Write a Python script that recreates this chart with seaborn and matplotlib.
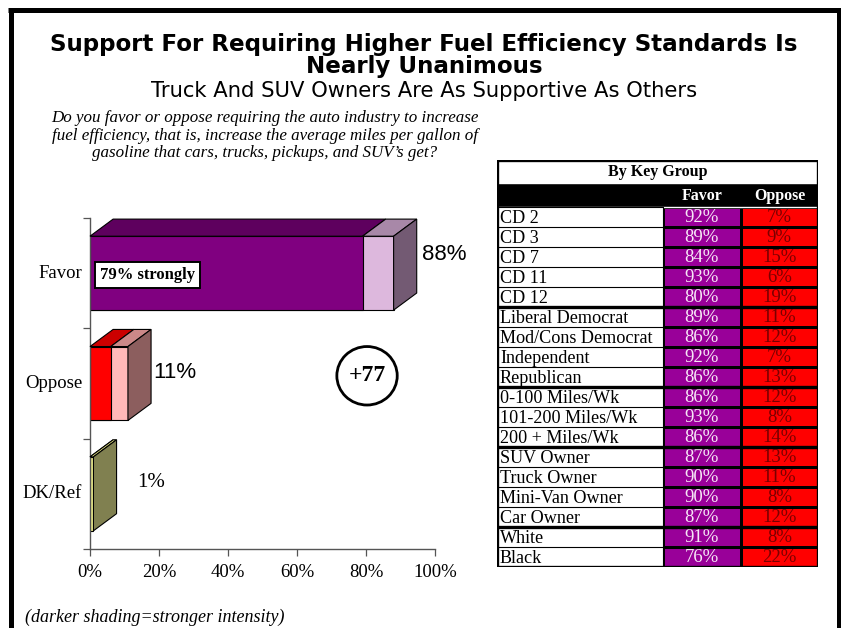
import numpy as np
import pandas as pd
import matplotlib
matplotlib.use("Agg")
import matplotlib.pyplot as plt
from matplotlib.colors import ListedColormap
from matplotlib.patches import Polygon, Rectangle, Ellipse
from matplotlib.lines import Line2D
import seaborn as sns

# --- data ---
CATEGORIES = ["Favor", "Oppose", "DK/Ref"]
TOTAL_PCT = [88, 11, 1]
STRONG_PCT = [79, 6, 0]
VALUE_LABELS = ["88%", "11%", "1%"]

GROUPS = ["CD 2", "CD 3", "CD 7", "CD 11", "CD 12",
          "Liberal Democrat", "Mod/Cons Democrat", "Independent", "Republican",
          "0-100 Miles/Wk", "101-200 Miles/Wk", "200 + Miles/Wk",
          "SUV Owner", "Truck Owner", "Mini-Van Owner", "Car Owner",
          "White", "Black"]
GROUP_FAVOR = [92, 89, 84, 93, 80, 89, 86, 92, 86, 86, 93, 86, 87, 90, 90, 87, 91, 76]
GROUP_OPPOSE = [7, 9, 15, 6, 19, 11, 12, 7, 13, 12, 8, 14, 13, 11, 8, 12, 8, 22]
SECTION_ENDS = [5, 9, 12, 16]

QUESTION = ["Do you favor or oppose requiring the auto industry to increase",
            "fuel efficiency, that is, increase the average miles per gallon of",
            "gasoline that cars, trucks, pickups, and SUV\u2019s get?"]

STRONG_COLORS = ["#800080", "#FF0000", "#FFFF99"]
SOFT_COLORS = ["#DDB8DD", "#FFB8B8", "#FFFF99"]
TOP_STRONG = ["#5E005E", "#CC0000", "#E0E080"]
TOP_SOFT = ["#A888A8", "#CC8888", "#E0E080"]
SIDE_COLORS = ["#735A73", "#8C5E5E", "#808050"]

W, H = 841, 628
SERIF = "Liberation Serif"
SANS = "Liberation Sans"
HEAD = "DejaVu Sans"

sns.set_theme(style="white")
plt.rcParams["font.family"] = [SERIF, "DejaVu Sans"]
plt.rcParams["text.color"] = "black"
plt.rcParams["xtick.color"] = "black"
plt.rcParams["ytick.color"] = "black"

fig = plt.figure(figsize=(W / 100, H / 100), dpi=100)
fig.patch.set_facecolor("white")
renderer = fig.canvas.get_renderer()


def px_axes(x0, y0, x1, y1):
    # axes placed by pixel box (top-left origin)
    return fig.add_axes([x0 / W, 1 - y1 / H, (x1 - x0) / W, (y1 - y0) / H])


def fx(x):
    return x / W


def fy(y):
    return 1 - y / H


def fit_width(txt, target_px):
    w = txt.get_window_extent(renderer).width
    txt.set_fontsize(txt.get_fontsize() * target_px / w)
    return txt.get_fontsize()


# outer frame
for xs, ys in [((10.5, 10.5), (10, H)), ((8, 841), (10, 10)), ((838.5, 838.5), (10, H))]:
    fig.add_artist(Line2D([fx(v) for v in xs], [fy(v) for v in ys], color="black",
                          lw=3.6, solid_capstyle="butt"))

# titles
t1 = fig.text(fx(424), fy(45), "Support For Requiring Higher Fuel Efficiency Standards Is",
              ha="center", va="center", fontsize=15, fontweight="bold", family=HEAD)
fs = fit_width(t1, 750)
fig.text(fx(424), fy(67), "Nearly Unanimous", ha="center", va="center",
         fontsize=fs, fontweight="bold", family=HEAD)
st = fig.text(fx(424), fy(91), "Truck And SUV Owners Are As Supportive As Others",
              ha="center", va="center", fontsize=13, family=HEAD)
fit_width(st, 545)

q = [fig.text(fx(265), fy(118 + 17.5 * i), line, ha="center", va="center", fontsize=12,
              style="italic") for i, line in enumerate(QUESTION)]
qfs = fit_width(q[1], 425)
for t in q:
    t.set_fontsize(qfs)

foot = fig.text(fx(25), fy(617), "(darker shading=stronger intensity)", ha="left",
                va="center", fontsize=12, style="italic")
fit_width(foot, 260)

# --- 3D bar chart ---
ax = px_axes(90, 218, 435, 549)
df = pd.DataFrame({"cat": CATEGORIES, "total": TOTAL_PCT, "strong": STRONG_PCT})
bar_h = 0.67
sns.barplot(data=df, x="total", y="cat", hue="cat", palette=SOFT_COLORS, orient="h",
            width=bar_h, saturation=1, edgecolor="black", linewidth=0.8, legend=False, ax=ax)
sns.barplot(data=df, x="strong", y="cat", hue="cat", palette=STRONG_COLORS, orient="h",
            width=bar_h, saturation=1, edgecolor="black", linewidth=0.8, legend=False, ax=ax)

dx, dy = 6.7, 0.155
for i, (tot, s) in enumerate(zip(TOTAL_PCT, STRONG_PCT)):
    top, bot = i - bar_h / 2, i + bar_h / 2
    faces = [
        ([(0, top), (dx, top - dy), (s + dx, top - dy), (s, top)], TOP_STRONG[i]),
        ([(s, top), (s + dx, top - dy), (tot + dx, top - dy), (tot, top)], TOP_SOFT[i]),
        ([(tot, top), (tot + dx, top - dy), (tot + dx, bot - dy), (tot, bot)], SIDE_COLORS[i]),
    ]
    for pts, c in faces:
        ax.add_patch(Polygon(pts, closed=True, facecolor=c, edgecolor="black", lw=0.8,
                             zorder=3, clip_on=False))

ax.text(TOTAL_PCT[0] + 8.3, 0 - 0.17, VALUE_LABELS[0], fontsize=16, family=SANS,
        ha="left", va="center")
ax.text(TOTAL_PCT[1] + 7.3, 1 - 0.1, VALUE_LABELS[1], fontsize=16, family=SANS,
        ha="left", va="center")
ax.text(TOTAL_PCT[2] + 12.7, 2 - 0.1, VALUE_LABELS[2], fontsize=15, ha="left", va="center")

ax.text(3, 0.02, "79% strongly", fontsize=12, fontweight="bold", ha="left", va="center",
        bbox=dict(boxstyle="square,pad=0.3", facecolor="white", edgecolor="black", lw=1.4),
        zorder=5)

ax.add_patch(Ellipse((80.3, 0.93), 17.5, 0.53, facecolor="white", edgecolor="black", lw=2,
                     zorder=4))
ax.text(80.3, 0.93, "+77", fontsize=17, fontweight="bold", ha="center", va="center", zorder=5)

ax.set_xlim(0, 100)
ax.set_ylim(2.5, -0.5)
ax.set_xticks(np.arange(0, 101, 20))
ax.set_xticklabels([f"{v}%" for v in range(0, 101, 20)], fontsize=13.5)
ax.set_yticks([-0.5, 0.5, 1.5, 2.5])
ax.set_yticklabels([])
ax.set_xlabel("")
ax.set_ylabel("")
ax.tick_params(axis="both", direction="out", length=5, width=0.9, colors="#555555",
               labelcolor="black", left=True, bottom=True)
ax.tick_params(axis="x", pad=6)
for i, c in enumerate(CATEGORIES):
    ax.text(-2.3, i, c, fontsize=13.5, ha="right", va="center")
sns.despine(ax=ax)
for side in ["left", "bottom"]:
    ax.spines[side].set_color("#555555")
    ax.spines[side].set_linewidth(1.0)
ax.patch.set_alpha(0)

# --- table: heatmap for the coloured cells ---
T_X0, T_X1, T_Y0, T_Y1 = 497, 818, 160, 567
COL_LAB, COL_FAV = 663, 741
HDR1, HDR2 = 183, 207
n = len(GROUPS)

axh = px_axes(COL_LAB, HDR2, T_X1, T_Y1)
col_idx = np.tile([0, 1], (n, 1))
annot = np.array([[f"{f}%", f"{o}%"] for f, o in zip(GROUP_FAVOR, GROUP_OPPOSE)])
sns.heatmap(col_idx, cmap=ListedColormap(["#990099", "#FF0000"]), cbar=False,
            annot=annot, fmt="", linewidths=0.8, linecolor="black",
            annot_kws={"fontsize": 13.5, "family": SERIF}, ax=axh)
for k, t in enumerate(axh.texts):
    t.set_color("#F6E6F6" if k % 2 == 0 else "#7A0000")
    x, y = t.get_position()
    t.set_position((x, y + 0.05))
axh.set_xticks([])
axh.set_yticks([])

axt = px_axes(T_X0, T_Y0, T_X1, T_Y1)
axt.set_xlim(T_X0, T_X1)
axt.set_ylim(T_Y1, T_Y0)
axt.set_axis_off()
axt.set_zorder(axh.get_zorder() + 1)
axt.patch.set_visible(False)
axt.add_patch(Rectangle((T_X0, HDR1), T_X1 - T_X0, HDR2 - HDR1, facecolor="black"))
axt.text((T_X0 + T_X1) / 2, (T_Y0 + HDR1) / 2 + 1, "By Key Group", fontsize=11.5,
         fontweight="bold", ha="center", va="center")
axt.text((COL_LAB + COL_FAV) / 2, (HDR1 + HDR2) / 2 + 1, "Favor", fontsize=11.5,
         fontweight="bold", color="white", ha="center", va="center")
axt.text((COL_FAV + T_X1) / 2, (HDR1 + HDR2) / 2 + 1, "Oppose", fontsize=11.5,
         fontweight="bold", color="white", ha="center", va="center")
row_h = (T_Y1 - HDR2) / n
labels = []
for i, g in enumerate(GROUPS):
    y = HDR2 + i * row_h
    axt.plot([T_X0, COL_LAB], [y, y], color="black", lw=0.8)
    labels.append(axt.text(T_X0 + 3, y + row_h / 2 + 1, g, fontsize=13, ha="left",
                           va="center"))
lfs = fit_width(labels[GROUPS.index("Mod/Cons Democrat")], 152)
for t in labels:
    t.set_fontsize(lfs)
axt.plot([COL_LAB, COL_LAB], [HDR2, T_Y1], color="black", lw=0.8)
for e in SECTION_ENDS:
    y = HDR2 + e * row_h
    axt.plot([T_X0, T_X1], [y, y], color="black", lw=2.4)
axt.add_patch(Rectangle((T_X0, T_Y0), T_X1 - T_X0, T_Y1 - T_Y0, facecolor="none",
                        edgecolor="black", lw=2.4))

fig.savefig("out.png", dpi=100)
